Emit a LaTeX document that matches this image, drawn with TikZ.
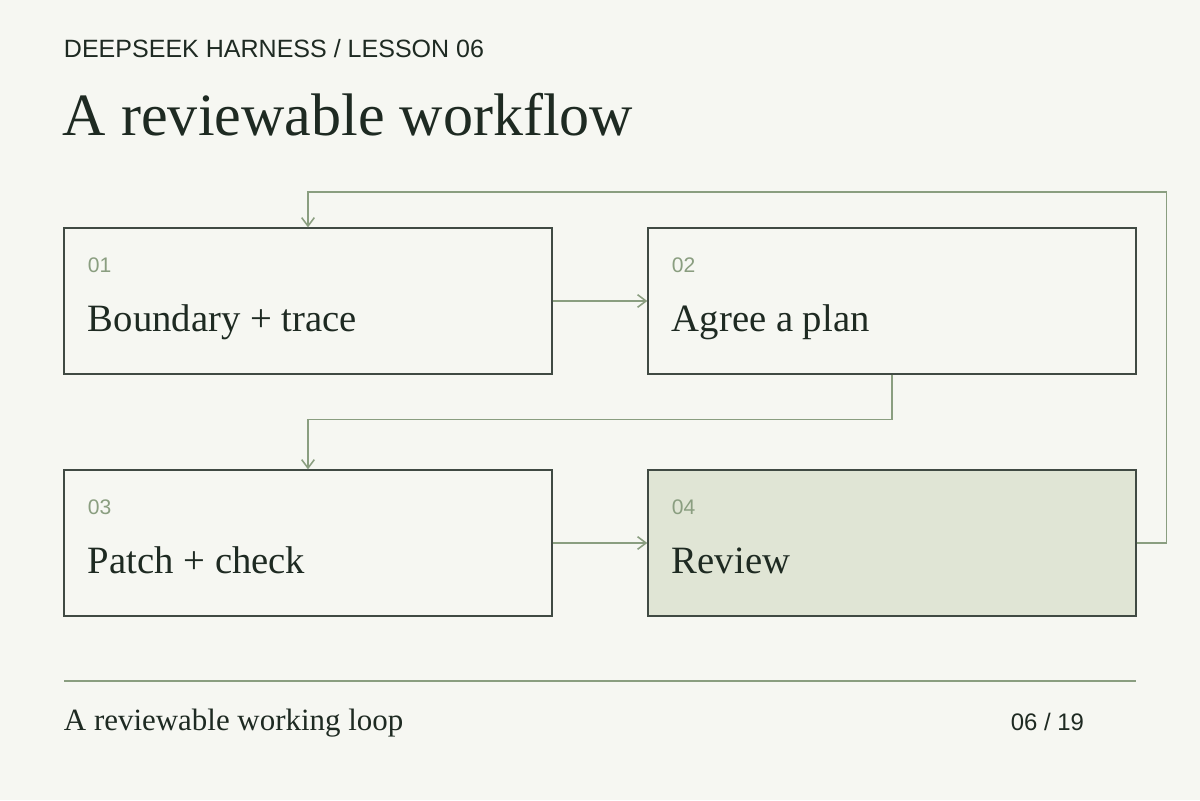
\documentclass[tikz,border=0pt]{standalone}
\usepackage{fontspec}
\setmainfont{Liberation Serif}
\setsansfont{Liberation Sans}
\usetikzlibrary{positioning, arrows.meta}
\definecolor{bgpaper}{HTML}{F6F7F2}
\definecolor{inkdark}{HTML}{1E2A22}
\definecolor{sage}{HTML}{8A9E80}
\definecolor{sagefill}{HTML}{E0E5D5}
\tikzset{
    stage/.style={rectangle, draw=inkdark!85, line width=0.9pt, minimum width=12.2cm, minimum height=3.65cm, fill=bgpaper},
    stagenum/.style={font=\sffamily\fontsize{15}{17}\selectfont, text=sage, anchor=base west},
    stagetext/.style={font=\fontsize{27.5}{30}\selectfont, text=inkdark, anchor=base west},
    flow/.style={draw=sage, line width=1.1pt, -{Straight Barb[length=6pt, width=9pt]}},
}
\begin{document}
\begin{tikzpicture}[x=0.025cm, y=-0.025cm]
    \fill[bgpaper] (0,0) rectangle (1200,800);
    \useasboundingbox (0,0) rectangle (1200,800);

    % Kopf
    \node (kicker) [font=\sffamily\fontsize{17.8}{20}\selectfont, text=inkdark, anchor=base west] at (59,58) {DEEPSEEK HARNESS / LESSON 06};
    \node (headline) [font=\fontsize{42.7}{48}\selectfont, text=inkdark, anchor=base west] at (58,136) {A reviewable workflow};

    % Schritte
    \node (boundary) [stage] at (308,301) {};
    \node (plan) [stage] at (892,301) {};
    \node (patch) [stage] at (308,543) {};
    \node (review) [stage, fill=sagefill] at (892,543) {};

    \node [stagenum] at (83,272) {01};
    \node [stagetext] at (83,331) {Boundary + trace};
    \node [stagenum] at (667,272) {02};
    \node [stagetext] at (667,331) {Agree a plan};
    \node [stagenum] at (83,514) {03};
    \node [stagetext] at (83,573) {Patch + check};
    \node [stagenum] at (667,514) {04};
    \node [stagetext] at (667,573) {Review};

    % Verbindungen
    \draw [flow] (boundary.east) -- (plan.west);
    \draw [flow] (plan.south) -- ++(0,45) -| (patch.north);
    \draw [flow] (patch.east) -- (review.west);
    \draw [flow] (review.east) -- ++(30,0) |- ++(-30,-351) -| (boundary.north);

    % Fuss
    \draw [sage, line width=1pt] (64,681) -- (1136,681);
    \node (caption) [font=\fontsize{22}{25}\selectfont, text=inkdark, anchor=base west] at (59,730) {A reviewable working loop};
    \node (pager) [font=\sffamily\fontsize{17}{19}\selectfont, text=inkdark, anchor=base east] at (1089,730) {06 / 19};
\end{tikzpicture}
\end{document}
